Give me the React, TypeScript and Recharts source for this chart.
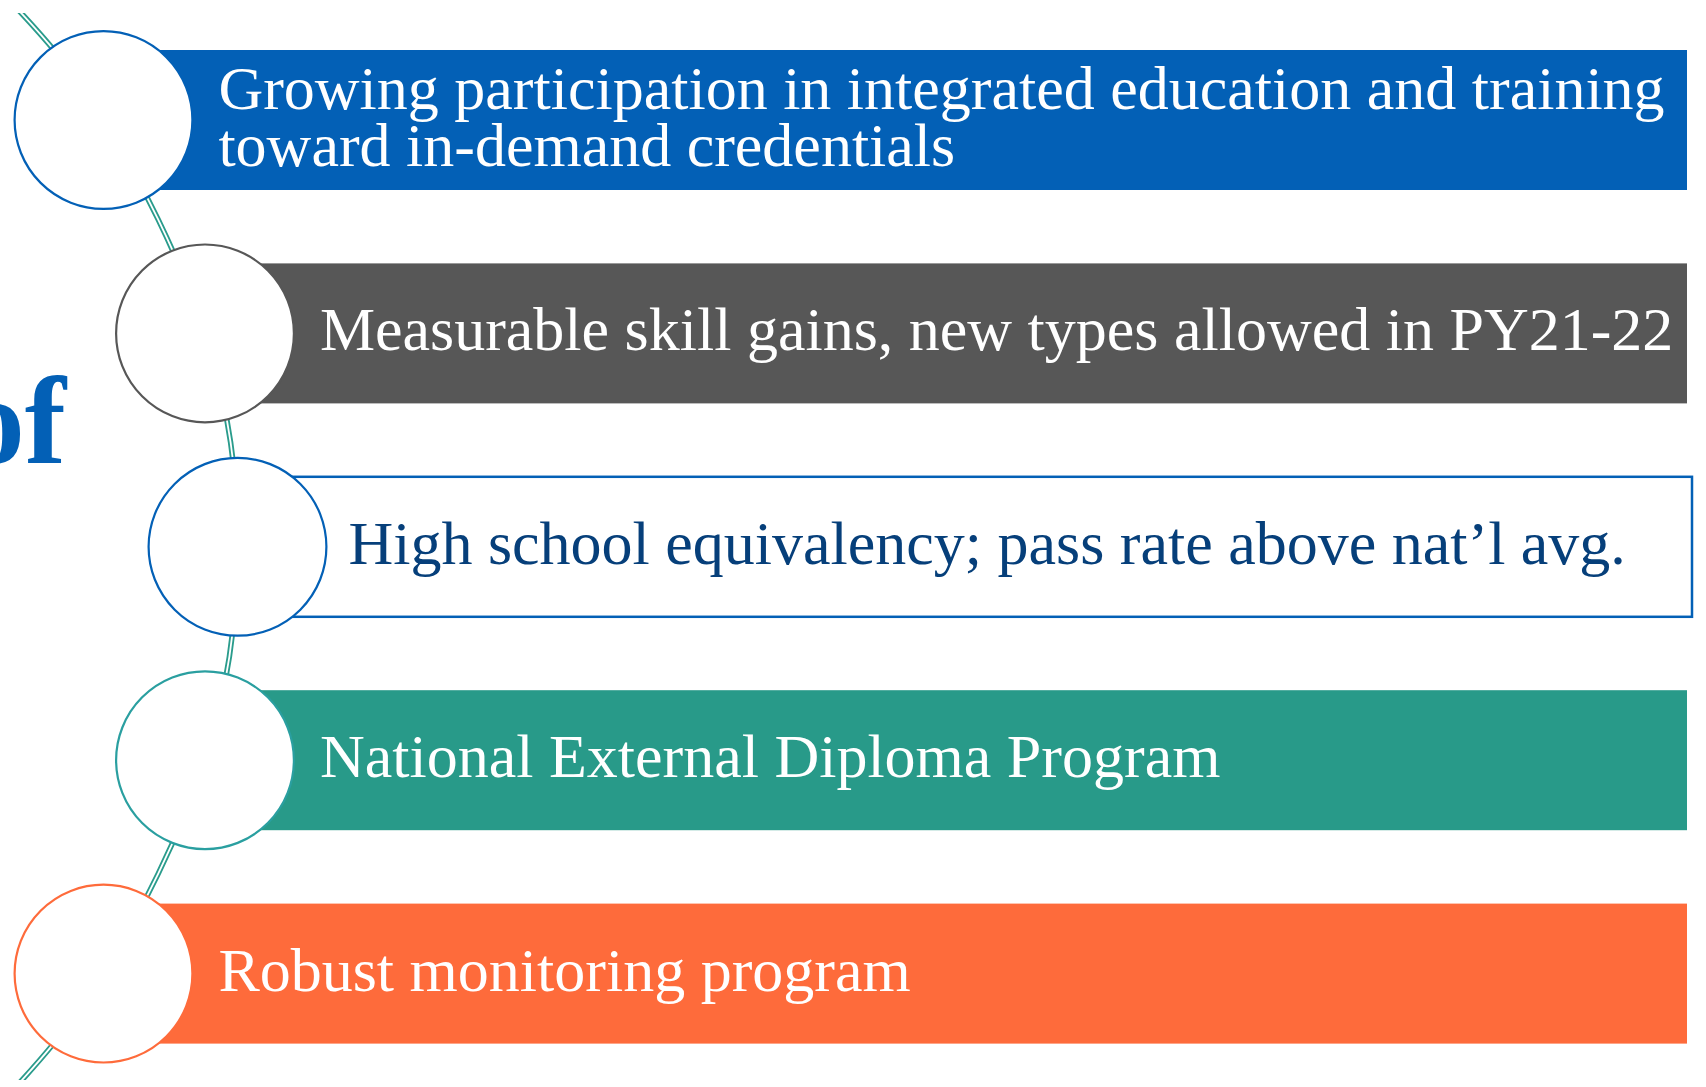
import React from 'react';
import { ComposedChart, Bar, Line, XAxis, YAxis } from 'recharts';

const W = 1706;
const H = 1087;

// rows, top to bottom
const labels = [
  ['Growing participation in integrated education and training', 'toward in-demand credentials'],
  ['Measurable skill gains, new types allowed in PY21-22'],
  ['High school equivalency; pass rate above nat\u2019l avg.'],
  ['National External Diploma Program'],
  ['Robust monitoring program'],
];
const starts = [103.5, 205, 237.5, 205, 103.5];
const ends = [1687, 1687, 1692, 1687, 1687];
const fills = ['#0360B6', '#575757', '#FFFFFF', '#289A89', '#FE6B3B'];
const rings = ['#0360B6', '#575757', '#0360B6', '#2A9FA0', '#FE6B3B'];
const textColors = ['#FFFFFF', '#FFFFFF', '#063F7A', '#FFFFFF', '#FFFFFF'];

// connector arc through the circles, plus where it leaves the frame
const arcRows = [-0.562, 0, 1, 2, 3, 4, 4.531];
const arcX = [10, 103.5, 205, 237.5, 205, 103.5, 15];

const rows = labels.map((l, i) => ({ name: l.join(' '), span: [starts[i], ends[i]] }));
const arcData = arcRows.map((r, i) => ({ row: r, x: arcX[i] }));

const FONT = '"Liberation Serif", "DejaVu Serif", serif';

const RowShape = (props: any) => {
  const { x, y, width, height, index } = props;
  const cy = y + height / 2;
  const r = height * 0.635;
  const outlined = fills[index] === '#FFFFFF';
  const lines = labels[index];
  const lh = 57;
  const tx = x + r + (outlined ? 22 : 26);
  const firstBase = cy + 17 - ((lines.length - 1) * lh) / 2;
  return (
    <g>
      <rect
        x={x}
        y={y}
        width={width}
        height={height}
        fill={fills[index]}
        stroke={outlined ? rings[index] : 'none'}
        strokeWidth={2.5}
      />
      <circle cx={x} cy={cy} r={r} fill="#FFFFFF" stroke={rings[index]} strokeWidth={2.2} />
      <text fontFamily={FONT} fontSize={62} fill={textColors[index]}>
        {lines.map((l, i) => (
          <tspan key={i} x={tx} y={firstBase + i * lh}>
            {l}
          </tspan>
        ))}
      </text>
    </g>
  );
};

export default function App() {
  return (
    <div style={{ position: 'absolute', left: 0, top: 0, width: W, height: H, overflow: 'hidden', background: '#fff' }}>
      <ComposedChart width={W} height={H} data={rows} layout="vertical" margin={{ top: 0, right: 0, bottom: 0, left: 0 }}>
        <XAxis type="number" domain={[0, W]} hide />
        <YAxis yAxisId="cat" type="category" dataKey="name" hide padding={{ top: 13, bottom: 7 }} />
        <YAxis
          yAxisId="num"
          type="number"
          dataKey="row"
          domain={[-0.5, 4.5]}
          reversed
          allowDataOverflow
          hide
          padding={{ top: 13, bottom: 7 }}
        />
        <Line data={arcData} yAxisId="num" dataKey="x" type="natural" stroke="#2A9C8C" strokeWidth={5.5} dot={false} isAnimationActive={false} zIndex={100} />
        <Line data={arcData} yAxisId="num" dataKey="x" type="natural" stroke="#FFFFFF" strokeWidth={1.8} dot={false} isAnimationActive={false} zIndex={101} />
        <Bar yAxisId="cat" dataKey="span" barSize={140} shape={<RowShape />} isAnimationActive={false} />
      </ComposedChart>
      <svg width={W} height={H} style={{ position: 'absolute', left: 0, top: 0, pointerEvents: 'none' }}>
        <text x={66} y={463} textAnchor="end" fontFamily={FONT} fontWeight="bold" fontSize={124} fill="#0360B6">
          of
        </text>
      </svg>
    </div>
  );
}
